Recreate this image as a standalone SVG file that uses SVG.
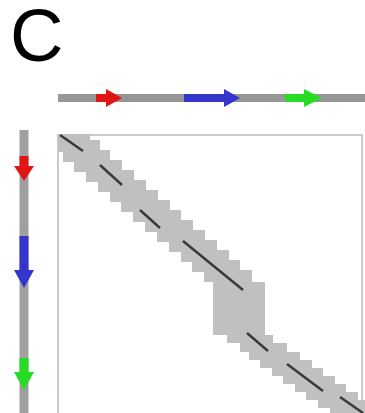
<svg xmlns="http://www.w3.org/2000/svg" width="365" height="413" viewBox="0 0 365 413">
<style>
.bar{fill:#969696}
.vbar{fill:#a0a0a0}
.band{fill:#c0c0c0}
.dash{stroke:#383838;stroke-width:2.4;fill:none}
.red{fill:#e01515}
.blue{fill:#3535cc}
.green{fill:#25dd25}
</style>
<rect width="365" height="413" fill="#fff"/>
<text x="10" y="61" font-family="Liberation Sans, Arial, sans-serif" font-size="74" fill="#000">C</text>
<g id="top-sequence">
<rect class="bar" x="58" y="94" width="307" height="8"/>
<rect class="red" x="96" y="94" width="12" height="8"/>
<polygon class="red" points="106,89 122,98 106,107"/>
<rect class="blue" x="184" y="94" width="42" height="8"/>
<polygon class="blue" points="224,89 240,98 224,107"/>
<rect class="green" x="285" y="94" width="21" height="8"/>
<polygon class="green" points="304,89 322,98 304,107"/>
</g>
<g id="left-sequence">
<rect class="vbar" x="19.5" y="130" width="9" height="283"/>
<rect class="red" x="19.5" y="156" width="9" height="12"/>
<polygon class="red" points="14,166 24,181 34,166"/>
<rect class="blue" x="19.5" y="236" width="9" height="36"/>
<polygon class="blue" points="14,270 24,288 34,270"/>
<rect class="green" x="19.5" y="358" width="9" height="16"/>
<polygon class="green" points="14,372 24,390 34,372"/>
</g>
<g id="matrix">
<rect x="58" y="135" width="304" height="300" fill="none" stroke="#cacaca" stroke-width="2"/>
<g id="band">
<polygon class="band" points="58,134 90,134 90,140 100,140 100,150 110,150 110,160 122,160 122,170 134,170 134,180 146,180 146,190 158,190 158,200 170,200 170,210 181,210 181,220 193,220 193,230 205,230 205,240 217,240 217,250 229,250 229,260 240,260 240,270 252,270 252,282 265,282 265,335 273,335 273,343 287,343 287,352 300,352 300,360 312,360 312,368 323,368 323,376 335,376 335,384 346,384 346,392 358,392 358,400 365,400 365,413 330,413 330,408 318,408 318,400 306,400 306,392 295,392 295,384 283,384 283,376 272,376 272,368 260,368 260,360 249,360 249,352 240,352 240,343 227,343 227,335 213,335 213,282 204,282 204,272 192,272 192,262 181,262 181,252 169,252 169,242 157,242 157,232 145,232 145,222 133,222 133,212 121,212 121,202 110,202 110,192 98,192 98,182 86,182 86,172 74,172 74,162 63,162 63,152 58,152"/>
</g>
<g id="alignment">
<line class="dash" x1="60" y1="135" x2="83" y2="151"/>
<line class="dash" x1="100" y1="165" x2="122" y2="185"/>
<line class="dash" x1="140" y1="210" x2="160" y2="228"/>
<line class="dash" x1="183" y1="241" x2="243" y2="290"/>
<line class="dash" x1="247" y1="333" x2="268" y2="351"/>
<line class="dash" x1="287" y1="364" x2="323" y2="391"/>
<line class="dash" x1="340" y1="397" x2="363" y2="413"/>
</g>
</g>
</svg>
